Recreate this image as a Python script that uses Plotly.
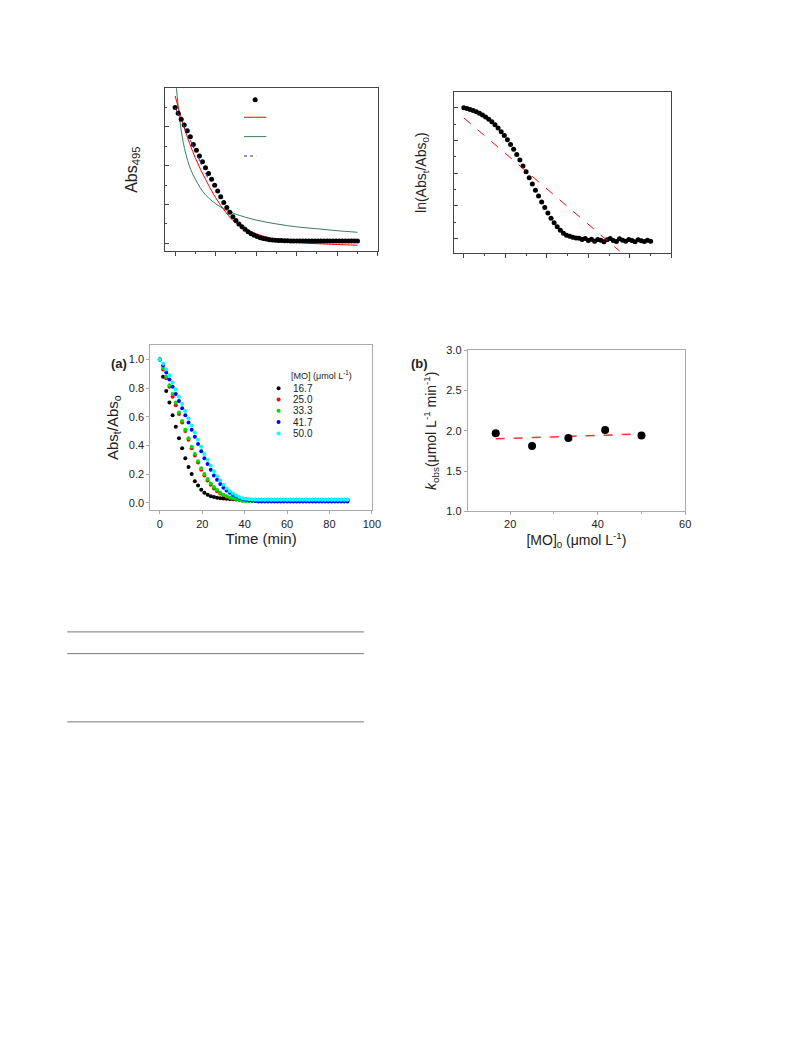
import plotly.graph_objects as go

W, H = 793, 1057
OFF = 8  # page body margin in the browser

# ---- top-left panel: Abs495 vs time with fits ----
tl_t = [0, 1.5, 3, 4.5, 6, 7.5, 9, 10.5, 12, 13.5, 15, 16.5, 18, 19.5, 21, 22.5, 24, 25.5, 27,
        28.5, 30, 31.5, 33, 34.5, 36, 37.5, 39, 40.5, 42, 43.5, 45, 46.5, 48, 49.5, 51, 52.5,
        54, 55.5, 57, 58.5, 60, 61.5, 63, 64.5, 66, 67.5, 69, 70.5, 72, 73.5, 75, 76.5, 78,
        79.5, 81, 82.5, 84, 85.5, 87, 88.5, 90]
tl_abs = [0.70, 0.67, 0.64, 0.61, 0.58, 0.55, 0.51, 0.48, 0.45, 0.42, 0.39, 0.36, 0.33, 0.30,
          0.27, 0.24, 0.21, 0.185, 0.16, 0.137, 0.118, 0.10, 0.085, 0.072, 0.06, 0.05, 0.042,
          0.035, 0.029, 0.025, 0.022, 0.019, 0.017, 0.016, 0.015, 0.014, 0.013, 0.013, 0.012,
          0.012, 0.012, 0.012, 0.012, 0.012, 0.012, 0.012, 0.012, 0.012, 0.012, 0.012, 0.012,
          0.012, 0.012, 0.012, 0.012, 0.012, 0.012, 0.012, 0.012, 0.012, 0.012]
red_t = [0, 5, 10, 15, 20, 25, 30, 40, 50, 60, 70, 80, 90]
red_abs = [0.76, 0.58, 0.44, 0.33, 0.235, 0.16, 0.105, 0.05, 0.02, 0.005, -0.002, -0.006, -0.01]
green_t = [0.5, 2, 4, 7, 10, 15, 22, 30, 40, 50, 60, 70, 80, 90]
green_abs = [0.82, 0.66, 0.52, 0.40, 0.33, 0.25, 0.19, 0.15, 0.12, 0.10, 0.085, 0.075, 0.065, 0.057]
blue_t = [0, 4, 8, 12, 16]
blue_abs = [0.70, 0.61, 0.52, 0.43, 0.34]

# ---- top-right panel: ln(Abs_t/Abs_0) ----
tr_ln = [0.0, -0.02, -0.05, -0.08, -0.12, -0.17, -0.22, -0.28, -0.35, -0.43, -0.52, -0.62,
         -0.73, -0.85, -0.98, -1.12, -1.27, -1.43, -1.60, -1.78, -1.96, -2.14, -2.33, -2.52,
         -2.70, -2.88, -3.05, -3.22, -3.38, -3.52, -3.64, -3.75, -3.84, -3.90, -3.93, -3.96,
         -3.98, -3.99, -4.03, -4.00, -4.06, -4.02, -4.08, -4.03, -4.05, -4.10, -4.04, -4.00,
         -4.06, -4.09, -4.01, -4.05, -4.08, -4.03, -4.06, -4.10, -4.04, -4.07, -4.09, -4.05, -4.08]
fit_t = [0, 75]
fit_ln = [-0.31, -4.38]

# ---- panel (a) ----
a_t = tl_t[:60]
mo_labels = ["16.7", "25.0", "33.3", "41.7", "50.0"]
mo_colors = ["black", "red", "#00dd00", "blue", "cyan"]
a_16 = [1.0, 0.88, 0.78, 0.70, 0.61, 0.53, 0.45, 0.38, 0.31, 0.25, 0.20, 0.15, 0.12, 0.09,
        0.07, 0.055, 0.045, 0.04, 0.035, 0.032, 0.03, 0.028, 0.026, 0.024, 0.022]
a_25 = [1.0, 0.93, 0.87, 0.81, 0.74, 0.68, 0.62, 0.56, 0.50, 0.44, 0.38, 0.33, 0.28, 0.23,
        0.19, 0.155, 0.125, 0.10, 0.08, 0.065, 0.052, 0.042, 0.035, 0.03, 0.025, 0.022]
a_33 = [1.0, 0.94, 0.88, 0.82, 0.76, 0.70, 0.63, 0.57, 0.51, 0.45, 0.39, 0.34, 0.29, 0.24,
        0.20, 0.165, 0.135, 0.11, 0.088, 0.07, 0.056, 0.045, 0.037, 0.031, 0.026, 0.022]
a_41 = [1.0, 0.96, 0.91, 0.86, 0.81, 0.76, 0.71, 0.66, 0.61, 0.56, 0.51, 0.46, 0.41, 0.36,
        0.31, 0.27, 0.23, 0.19, 0.16, 0.13, 0.105, 0.085, 0.07, 0.055, 0.045, 0.035, 0.028,
        0.022, 0.018, 0.015, 0.012]
a_50 = [1.0, 0.97, 0.93, 0.89, 0.84, 0.79, 0.74, 0.69, 0.64, 0.59, 0.54, 0.49, 0.44, 0.39,
        0.34, 0.30, 0.26, 0.22, 0.185, 0.155, 0.125, 0.10, 0.08, 0.065, 0.05, 0.04, 0.032,
        0.027, 0.024, 0.022]
a_tails = [0.02, 0.015, 0.012, 0.008, 0.02]

# ---- panel (b) ----
b_mo = [16.7, 25.0, 33.3, 41.7, 50.0]
b_k = [1.97, 1.81, 1.91, 2.01, 1.94]
b_fit = [1.90, 1.96]


def px(x):
    return (x - OFF) / W


def py(y):
    return 1 - (y - OFF) / H


def dom_x(a, b):
    return [px(a), px(b)]


def dom_y(top, bottom):
    return [py(bottom), py(top)]


fig = go.Figure()
FONT = "Liberation Sans, Arial, sans-serif"
GREEN = "#3d7a5a"
NAVY = "#333399"

# top-left
fig.add_trace(go.Scatter(x=green_t, y=green_abs, mode="lines", line=dict(color=GREEN, width=1, shape="spline"),
                         xaxis="x", yaxis="y"))
fig.add_trace(go.Scatter(x=red_t, y=red_abs, mode="lines", line=dict(color="red", width=1, shape="spline"),
                         xaxis="x", yaxis="y"))
fig.add_trace(go.Scatter(x=tl_t, y=tl_abs, mode="markers", marker=dict(color="black", size=5),
                         xaxis="x", yaxis="y"))
fig.add_trace(go.Scatter(x=blue_t, y=blue_abs, mode="lines", line=dict(color=NAVY, width=1, dash="dash"),
                         xaxis="x", yaxis="y"))
# top-left legend keys
fig.add_trace(go.Scatter(x=[39.5], y=[0.74], mode="markers", marker=dict(color="black", size=5), xaxis="x", yaxis="y"))
fig.add_trace(go.Scatter(x=[34, 45], y=[0.65, 0.65], mode="lines", line=dict(color="red", width=1), xaxis="x", yaxis="y"))
fig.add_trace(go.Scatter(x=[34, 45], y=[0.55, 0.55], mode="lines", line=dict(color=GREEN, width=1), xaxis="x", yaxis="y"))
fig.add_trace(go.Scatter(x=[34, 40], y=[0.45, 0.45], mode="lines", line=dict(color=NAVY, width=1, dash="3px,3px"),
                         xaxis="x", yaxis="y"))

# top-right
fig.add_trace(go.Scatter(x=tl_t, y=tr_ln, mode="markers", marker=dict(color="black", size=5),
                         xaxis="x2", yaxis="y2"))
fig.add_trace(go.Scatter(x=fit_t, y=fit_ln, mode="lines", line=dict(color="red", width=1, dash="dash"),
                         xaxis="x2", yaxis="y2"))

# panel (a)
for lab, col, vals, tv in zip(mo_labels, mo_colors, [a_16, a_25, a_33, a_41, a_50], a_tails):
    ys = vals + [tv] * (len(a_t) - len(vals))
    fig.add_trace(go.Scatter(x=a_t, y=ys, mode="markers", marker=dict(color=col, size=4),
                             xaxis="x3", yaxis="y3"))
# (a) legend
for i, (lab, col) in enumerate(zip(mo_labels, mo_colors)):
    fig.add_trace(go.Scatter(x=[56], y=[0.8 - i * 0.079], mode="markers", marker=dict(color=col, size=4),
                             xaxis="x3", yaxis="y3"))
    fig.add_annotation(x=62, y=0.8 - i * 0.079, xref="x3", yref="y3", text=lab, showarrow=False,
                       xanchor="left", font=dict(size=10, color="#222", family=FONT))
fig.add_annotation(x=61, y=0.89, xref="x3", yref="y3", text="[MO] (μmol L<sup>-1</sup>)", showarrow=False,
                   xanchor="left", font=dict(size=9, color="#222", family=FONT))

# panel (b)
fig.add_trace(go.Scatter(x=[b_mo[0], b_mo[-1]], y=b_fit, mode="lines",
                         line=dict(color="#ff3333", width=1.5, dash="dash"), xaxis="x4", yaxis="y4"))
fig.add_trace(go.Scatter(x=b_mo, y=b_k, mode="markers", marker=dict(color="black", size=8),
                         xaxis="x4", yaxis="y4"))

top_ax = dict(showline=True, mirror=True, linecolor="#444", linewidth=1, showgrid=False, zeroline=False,
              showticklabels=False, ticklen=4, tickcolor="#444")
bot_ax = dict(showline=True, mirror=True, linecolor="#aaa", ticks="outside", ticklen=3, tickcolor="#aaa",
              showgrid=False, zeroline=False, tickfont=dict(size=11, color="#222"))
fig.update_layout(
    width=W, height=H, margin=dict(l=0, r=0, t=0, b=0), showlegend=False,
    plot_bgcolor="white", paper_bgcolor="white", font=dict(family=FONT),
    xaxis=dict(top_ax, domain=dom_x(167, 382), anchor="y", range=[-4.9, 100], dtick=20, ticks="outside",
               minor=dict(ticks="outside", ticklen=2, dtick=10, tickcolor="#444")),
    yaxis=dict(top_ax, domain=dom_y(83, 248), anchor="x", range=[-0.041, 0.80], dtick=0.2, ticks="inside",
               minor=dict(ticks="inside", ticklen=2, dtick=0.1, tickcolor="#444"),
               title=dict(text="Abs<sub>495</sub>", font=dict(size=16, color="#222"), standoff=22)),
    xaxis2=dict(top_ax, domain=dom_x(459, 679), anchor="y2", range=[-4.8, 100], dtick=20, ticks="outside",
                minor=dict(ticks="outside", ticklen=2, dtick=10, tickcolor="#444")),
    yaxis2=dict(top_ax, domain=dom_y(87, 250), anchor="x2", range=[-4.45, 0.48], dtick=1, ticks="inside",
                minor=dict(ticks="inside", ticklen=2, dtick=0.5, tickcolor="#444"),
                title=dict(text="ln(Abs<sub>t</sub>/Abs<sub>0</sub>)", font=dict(size=14, color="#222"), standoff=22)),
    xaxis3=dict(bot_ax, domain=dom_x(152, 376), anchor="y3", range=[-4.5, 100], dtick=20,
                title=dict(text="Time (min)", font=dict(size=15, color="#222"), standoff=2)),
    yaxis3=dict(bot_ax, domain=dom_y(343, 510), anchor="x3", range=[-0.053, 1.10], dtick=0.2, tickformat=".1f",
                title=dict(text="Abs<sub>t</sub>/Abs<sub>o</sub>", font=dict(size=15, color="#222"), standoff=6)),
    xaxis4=dict(bot_ax, domain=dom_x(473, 693), anchor="y4", range=[10.3, 60], dtick=20,
                minor=dict(ticks="outside", ticklen=2, dtick=10, tickcolor="#aaa"),
                title=dict(text="[MO]<sub>0</sub> (μmol L<sup>-1</sup>)", font=dict(size=14, color="#222"), standoff=2)),
    yaxis4=dict(bot_ax, domain=dom_y(348, 511), anchor="x4", range=[1.0, 3.0], dtick=0.5, tickformat=".1f",
                title=dict(text="<i>k</i><sub>obs</sub>(μmol L<sup>-1</sup> min<sup>-1</sup>)",
                           font=dict(size=14, color="#222"), standoff=6)),
)

fig.add_annotation(x=px(110), y=py(352), xref="paper", yref="paper", text="<b>(a)</b>", showarrow=False,
                   font=dict(size=13, color="#222", family=FONT))
fig.add_annotation(x=px(424), y=py(352), xref="paper", yref="paper", text="<b>(b)</b>", showarrow=False,
                   font=dict(size=13, color="#222", family=FONT))

# table rules below the figure
for yy in [633, 655, 724]:
    fig.add_shape(type="line", xref="paper", yref="paper", x0=px(68), x1=px(368),
                  y0=py(yy), y1=py(yy), line=dict(color="#777", width=1))

fig.write_html("out.html")
